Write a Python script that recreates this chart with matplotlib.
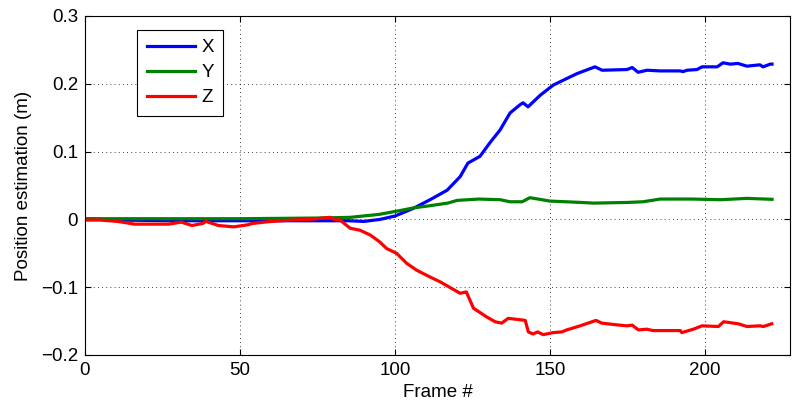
import matplotlib
matplotlib.use('Agg')
import matplotlib.pyplot as plt

# valeurs (frame, position en m)
frame_x = [0, 10, 30, 50, 70, 85, 90, 95.2, 100, 105.8, 111.3, 116.8, 121, 123.5, 127.4,
           130.6, 133.9, 137.1, 140.3, 141.3, 142.9, 146.8, 151, 155.5, 158.7, 164.5,
           166.8, 174.8, 176.5, 178.4, 181.3, 185.5, 191.9, 192.9, 194.2, 197.4, 199,
           203.9, 205.8, 208.1, 210.6, 213.5, 217.7, 218.7, 221, 221.6]
pos_x = [0.001, -0.001, -0.002, -0.002, -0.002, -0.002, -0.003, 0.0, 0.005, 0.016,
         0.029, 0.043, 0.063, 0.083, 0.093, 0.113, 0.132, 0.157, 0.169, 0.172, 0.166,
         0.183, 0.198, 0.208, 0.215, 0.225, 0.220, 0.221, 0.224, 0.217, 0.220, 0.219,
         0.219, 0.218, 0.220, 0.221, 0.225, 0.225, 0.231, 0.229, 0.230, 0.226, 0.228,
         0.225, 0.229, 0.229]

frame_y = [0, 20, 50, 75, 85.5, 93, 95, 101.6, 106, 111, 117, 120, 127, 134, 137, 141,
           143.5, 150, 160, 164, 175, 180, 185.5, 196, 205, 213.5, 221.6]
pos_y = [0.001, 0.001, 0.001, 0.002, 0.003, 0.0065, 0.0075, 0.013, 0.017, 0.020, 0.024,
         0.028, 0.030, 0.029, 0.026, 0.026, 0.032, 0.027, 0.025, 0.024, 0.025, 0.026,
         0.030, 0.030, 0.029, 0.031, 0.0296]

frame_z = [0, 5, 10.6, 16, 27, 31, 34.5, 38, 39, 43, 48, 52.5, 54, 60, 67, 74, 76, 79,
           81, 82, 85.5, 88.7, 92, 95, 97.3, 100.5, 103.8, 107, 111.3, 114.5, 121, 123,
           125.3, 129.6, 132.3, 134.4, 136.5, 140.3, 142, 143, 144.5, 146, 147.8, 151,
           153.8, 155.4, 159.7, 164.8, 166.7, 170.4, 174.7, 176.5, 178.5, 181.2, 183.3,
           192, 192.5, 196.2, 199, 204.3, 206, 210.7, 213.5, 217.7, 218.8, 221.5]
pos_z = [-0.001, -0.001, -0.003, -0.007, -0.007, -0.004, -0.009, -0.006, -0.003, -0.009,
         -0.011, -0.008, -0.006, -0.003, -0.001, 0.0005, 0.0016, 0.003, -0.001, 0.0,
         -0.013, -0.016, -0.023, -0.033, -0.043, -0.050, -0.065, -0.075, -0.085, -0.092,
         -0.109, -0.107, -0.131, -0.144, -0.151, -0.153, -0.146, -0.148, -0.149, -0.166,
         -0.169, -0.166, -0.170, -0.167, -0.166, -0.163, -0.157, -0.149, -0.153, -0.155,
         -0.157, -0.156, -0.163, -0.162, -0.164, -0.164, -0.167, -0.162, -0.157, -0.158,
         -0.151, -0.154, -0.158, -0.157, -0.158, -0.154]

xticks = [0, 50, 100, 150, 200]
yticks = [0.3, 0.2, 0.1, 0, -0.1, -0.2]
ytick_labels = ['0.3', '0.2', '0.1', '0', '\u22120.1', '\u22120.2']

plt.rcParams['font.family'] = ['Liberation Sans', 'DejaVu Sans']
fs = 13.5

fig = plt.figure(figsize=(7.92, 4.07), dpi=100)
ax = fig.add_axes([0.1073, 0.1278, 0.8902, 0.8329])

ax.plot(frame_x, pos_x, color=(0, 0, 1), lw=2.3, label='X')
ax.plot(frame_y, pos_y, color=(0, 0.5, 0), lw=2.3, label='Y')
ax.plot(frame_z, pos_z, color=(1, 0, 0), lw=2.3, label='Z')

ax.set_xlim(0, 227.4)
ax.set_ylim(-0.2, 0.3)
ax.set_xticks(xticks)
ax.set_yticks(yticks)
ax.set_yticklabels(ytick_labels)
ax.tick_params(direction='in', top=True, right=True, labelsize=fs, length=4, pad=5)
ax.grid(True, color='k', linestyle=(0, (1, 4)), lw=0.6)
ax.set_xlabel('Frame #', fontsize=fs, labelpad=4)
ax.set_ylabel('Position estimation (m)', fontsize=fs, labelpad=6)

leg = ax.legend(loc='upper left', bbox_to_anchor=(0.074, 0.959), fontsize=fs,
                fancybox=False, framealpha=1, edgecolor='k', handlelength=2.6,
                handletextpad=0.32, borderpad=0.5, labelspacing=0.42, borderaxespad=0)
leg.get_frame().set_linewidth(0.8)

fig.savefig('out.png', dpi=100)
print('Done')
